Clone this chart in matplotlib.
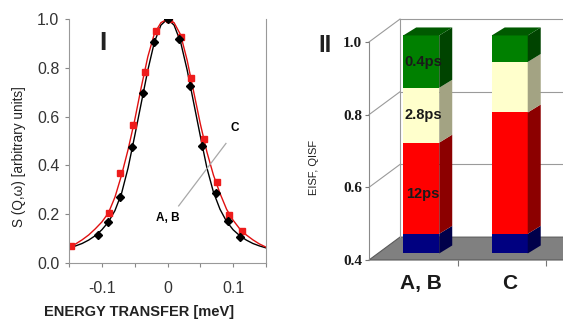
import matplotlib
matplotlib.use("Agg")
import matplotlib.pyplot as plt
from matplotlib.patches import Polygon

plt.rcParams['font.family'] = ['Liberation Sans', 'DejaVu Sans']

# ---- panel I : quasielastic spectra ----
energy_curve = [-0.15, -0.14, -0.13, -0.12, -0.11, -0.10, -0.09, -0.08, -0.07, -0.06,
                -0.05, -0.04, -0.03, -0.02, -0.01, 0.0, 0.01, 0.02, 0.03, 0.04,
                0.05, 0.06, 0.07, 0.08, 0.09, 0.10, 0.11, 0.12, 0.13, 0.14, 0.15]
fit_ab = [0.062, 0.070, 0.080, 0.094, 0.112, 0.136, 0.168, 0.215, 0.285, 0.390,
          0.520, 0.655, 0.790, 0.905, 0.975, 1.000, 0.975, 0.905, 0.790, 0.655,
          0.520, 0.390, 0.290, 0.220, 0.170, 0.136, 0.112, 0.094, 0.080, 0.070, 0.062]
fit_c = [0.065, 0.078, 0.095, 0.115, 0.140, 0.168, 0.205, 0.270, 0.360, 0.465,
         0.585, 0.720, 0.845, 0.940, 0.985, 1.000, 0.985, 0.935, 0.830, 0.700,
         0.570, 0.455, 0.360, 0.285, 0.220, 0.175, 0.140, 0.115, 0.095, 0.078, 0.065]

e_ab = [-0.106, -0.090, -0.072, -0.054, -0.037, -0.020, 0.0, 0.018, 0.035, 0.053, 0.074, 0.092, 0.111]
s_ab = [0.115, 0.167, 0.270, 0.474, 0.695, 0.905, 1.0, 0.917, 0.725, 0.480, 0.285, 0.173, 0.108]
e_c = [-0.147, -0.089, -0.072, -0.052, -0.035, -0.018, 0.002, 0.020, 0.036, 0.056, 0.075, 0.093, 0.113]
s_c = [0.068, 0.206, 0.368, 0.564, 0.783, 0.952, 1.0, 0.928, 0.757, 0.507, 0.333, 0.197, 0.131]

# ---- panel II : EISF / QISF stacked bars ----
categories = ["A, B", "C"]
base = 0.4
layer_tops = {
    "blue": [0.454, 0.454],
    "red": [0.705, 0.788],
    "cream": [0.856, 0.927],
    "green": [1.0, 1.0],
}
layer_labels = {"red": "12ps", "cream": "2.8ps", "green": "0.4ps"}
colors = {
    "blue": ("#000080", "#00004a", "#000060"),
    "red": ("#ff0000", "#8c0000", "#b00000"),
    "cream": ("#ffffcc", "#a3a383", "#d0d0a0"),
    "green": ("#008000", "#004400", "#005a00"),
}

W, H = 563, 320
fig = plt.figure(figsize=(W / 100, H / 100), dpi=100)

ax = fig.add_axes([69 / W, 1 - 263 / H, 197 / W, 244 / H])
ax.plot(energy_curve, fit_ab, color="black", lw=1.0)
ax.plot(energy_curve, fit_c, color="#e01010", lw=1.0)
ax.plot(e_c, s_c, "s", color="#ee1c1c", ms=4.5, mec="#ee1c1c")
ax.plot(e_ab, s_ab, "D", color="black", ms=4.5)
ax.set_xlim(-0.15, 0.15)
ax.set_ylim(0, 1.0)
ax.set_xticks([-0.15, -0.1, -0.05, 0, 0.05, 0.1, 0.15])
ax.set_xticklabels(["", "-0.1", "", "0", "", "0.1", ""])
ax.set_yticks([0, 0.2, 0.4, 0.6, 0.8, 1.0])
ax.set_yticklabels(["0.0", "0.2", "0.4", "0.6", "0.8", "1.0"])
ax.tick_params(labelsize=11.5, labelcolor="#333333", color="#888888", length=3, pad=4)
ax.tick_params(axis="x", pad=10)
for s in ("left", "bottom", "right"):
    ax.spines[s].set_color("#999999")
ax.spines["top"].set_visible(False)
ax.plot([0.089, 0.017], [0.49, 0.234], color="#a8a8a8", lw=0.9)
ax.text(0.103, 0.553, "C", fontsize=8.5, fontweight="bold", ha="center", va="center")
ax.text(0.0, 0.183, "A, B", fontsize=8.5, fontweight="bold", ha="center", va="center")
ax.text(0.173, 0.90, "I", transform=ax.transAxes, fontsize=19, fontweight="bold",
        ha="center", va="center", color="#222222")
fig.text(139 / W, 0.025, "ENERGY TRANSFER [meV]", fontsize=10.5, fontweight="bold",
         ha="center", va="center", color="#222222")
fig.text(19 / W, 1 - 157 / H, "S (Q,\u03c9) [arbitrary units]", fontsize=9.8,
         rotation=90, ha="center", va="center", color="#222222")

# right panel with pseudo-3D walls
ax2 = fig.add_axes([369 / W, 1 - 260 / H, 194 / W, 218 / H])
xmax = 194 / 88.5
ax2.set_xlim(0, xmax)
ax2.set_ylim(base, 1.0)
wall_dx, wall_dy = 0.35, 0.063
grid_c = "#9a9a9a"
far = xmax + 1
ax2.add_patch(Polygon([(0, base), (wall_dx, base + wall_dy), (far, base + wall_dy), (far, base)],
                      closed=True, fc="#808080", ec="#5a5a5a", lw=0.8, clip_on=False, zorder=1))
ax2.plot([wall_dx, wall_dx], [base + wall_dy, 1.0 + wall_dy], color=grid_c, lw=0.8,
         clip_on=False, zorder=1)
for v in (0.6, 0.8, 1.0):
    ax2.plot([0, wall_dx], [v, v + wall_dy], color=grid_c, lw=0.8, clip_on=False, zorder=1)
    ax2.plot([wall_dx, far], [v + wall_dy, v + wall_dy], color=grid_c, lw=0.8,
             clip_on=False, zorder=1)

bar_w, shift_x, shift_y = 0.407, 0.09, 0.018
depth_x, depth_y = 0.147, 0.022
order = ["blue", "red", "cream", "green"]
for i, cat in enumerate(categories):
    x0 = i + 0.5 - bar_w / 2 + shift_x
    x1 = x0 + bar_w
    bottom = base
    for k, name in enumerate(order):
        top = layer_tops[name][i]
        y0, y1 = bottom + shift_y, top + shift_y
        front, side, lid = colors[name]
        ax2.add_patch(Polygon([(x0, y0), (x1, y0), (x1, y1), (x0, y1)], closed=True,
                              fc=front, ec="none", clip_on=False, zorder=3))
        ax2.add_patch(Polygon([(x1, y0), (x1 + depth_x, y0 + depth_y),
                               (x1 + depth_x, y1 + depth_y), (x1, y1)], closed=True,
                              fc=side, ec="none", clip_on=False, zorder=3))
        if k == len(order) - 1:
            ax2.add_patch(Polygon([(x0, y1), (x1, y1), (x1 + depth_x, y1 + depth_y),
                                   (x0 + depth_x, y1 + depth_y)], closed=True,
                                  fc=lid, ec="none", clip_on=False, zorder=3))
        if i == 0 and name in layer_labels:
            ax2.text(x0 + bar_w * 0.55, (y0 + y1) / 2 if name != "red" else y0 + 0.6 * (y1 - y0) - 0.04,
                     layer_labels[name], fontsize=10.5, fontweight="bold", color="#1a1a1a",
                     ha="center", va="center", zorder=4)
        bottom = top

ax2.set_yticks([0.4, 0.6, 0.8, 1.0])
ax2.set_yticklabels(["0.4", "0.6", "0.8", "1.0"], family="Liberation Serif",
                    fontweight="bold", fontsize=11, color="#1a1a1a")
ax2.set_xticks([1, 2])
ax2.set_xticklabels(["", ""])
ax2.set_xticks([i + 0.5 + shift_x for i in range(len(categories))], minor=True)
ax2.set_xticklabels(categories, minor=True, fontsize=15, fontweight="bold", color="#1a1a1a")
ax2.tick_params(axis="x", which="minor", length=0, pad=10)
ax2.tick_params(axis="x", which="major", length=4, color="#777777")
ax2.tick_params(axis="y", length=3, color="#777777", pad=2)
for s in ("top", "right", "bottom"):
    ax2.spines[s].set_visible(False)
ax2.spines["left"].set_color("#8a8a8a")
ax2.patch.set_visible(False)

fig.text(314 / W, 1 - 167 / H, "EISF, QISF", fontsize=8, rotation=90,
         ha="center", va="center", color="#222222")
fig.text(325 / W, 1 - 45 / H, "II", fontsize=17, fontweight="bold",
         ha="center", va="center", color="#222222")

fig.savefig("out.png", dpi=100)
